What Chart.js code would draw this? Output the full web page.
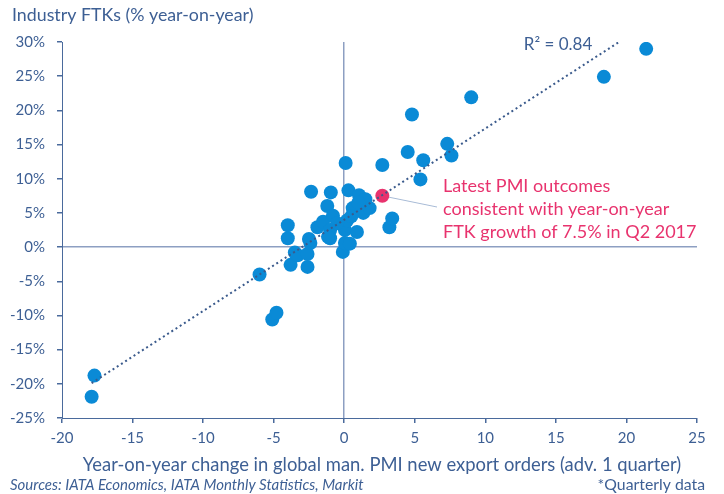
<!DOCTYPE html>
<html>
<head>
<meta charset="utf-8">
<script src="https://cdn.jsdelivr.net/npm/chart.js@4.4.1/dist/chart.umd.min.js"></script>
<style>
  html, body { margin: 0; padding: 0; background: #fff; }
</style>
</head>
<body>
<canvas id="ftkChart" width="724" height="494"></canvas>
<script>
// PMI new export orders change (x) vs industry FTK growth % (y), quarterly
const pmiX = [-17.9, -17.7, -6.0, -5.1, -4.8, -4.0, -4.0, -3.8, -3.5, -3.3,
              -2.6, -2.6, -2.5, -2.4, -2.35, -1.9, -1.5, -1.2, -1.0, -1.0,
              -0.95, -0.8, -0.1, 0.05, 0.05, 0.1, 0.2, 0.3, 0.4, 0.6,
              0.9, 1.05, 1.35, 1.5, 1.8, 2.7, 3.2, 3.4, 4.5, 4.8,
              5.4, 5.6, 7.3, 7.6, 9.0, 18.4, 21.4, -0.5, 0.5, 1.0, -1.15];
const ftkY = [-21.9, -18.8, -4.0, -10.6, -9.6, 3.2, 1.3, -2.6, -0.8, -1.2,
              -2.9, -1.0, 1.2, 0.6, 8.1, 2.9, 3.7, 6.0, 1.3, 2.5,
              8.0, 4.6, -0.7, 0.6, 2.5, 12.3, 3.9, 8.3, 0.5, 5.7,
              2.2, 7.6, 5.0, 7.0, 5.7, 12.0, 2.9, 4.2, 13.9, 19.4,
              9.9, 12.7, 15.1, 13.4, 21.9, 24.9, 29.0, 3.5, 4.5, 6.5, 1.5];

// latest quarter (Q2 2017)
const latestX = [2.7];
const latestY = [7.5];

// linear trend line end points
const trendX = [-17.9, 19.7];
const trendY = [-19.9, 30.3];

const xTicks = [-20, -15, -10, -5, 0, 5, 10, 15, 20, 25];
const yTicks = [-25, -20, -15, -10, -5, 0, 5, 10, 15, 20, 25, 30];

const blue = '#0a8ad6';
const pink = '#e8336e';
const textBlue = '#3d5f94';
const axisColor = '#4a6a9c';
const zeroColor = '#8d9fc2';

Chart.defaults.font.family = 'Lato, "Open Sans", sans-serif';

const toPoints = (xs, ys) => xs.map((v, i) => ({ x: v, y: ys[i] }));

const textPlugin = {
  id: 'textPlugin',
  beforeDatasetsDraw(chart) {
    const { ctx, scales: { x, y } } = chart;
    const px = x.getPixelForValue(latestX[0]);
    const py = y.getPixelForValue(latestY[0]);
    ctx.save();
    ctx.strokeStyle = '#a8bbd6';
    ctx.lineWidth = 1;
    ctx.beginPath();
    ctx.moveTo(px, py);
    ctx.lineTo(437, 207);
    ctx.stroke();
    ctx.restore();
  },
  afterDraw(chart) {
    const { ctx } = chart;
    ctx.save();
    ctx.textBaseline = 'middle';
    ctx.fillStyle = textBlue;
    ctx.textAlign = 'left';
    ctx.font = '17.8px Lato';
    ctx.fillText('Industry FTKs (% year-on-year)', 12, 15);

    ctx.textAlign = 'center';
    ctx.font = '18.4px Lato';
    ctx.fillText('Year-on-year change in global man. PMI new export orders (adv. 1 quarter)', 382, 465);

    ctx.font = '17px Lato';
    ctx.fillText('R\u00b2 = 0.84', 558, 45);

    ctx.textAlign = 'left';
    ctx.font = 'italic 15px Lato';
    ctx.fillText('Sources: IATA Economics, IATA Monthly Statistics, Markit', 10, 485);
    ctx.textAlign = 'right';
    ctx.font = '15.8px Lato';
    ctx.fillText('*Quarterly data', 705, 485);

    ctx.textAlign = 'left';
    ctx.fillStyle = pink;
    ctx.font = '18px Lato';
    ctx.fillText('Latest PMI outcomes', 443, 186);
    ctx.fillText('consistent with year-on-year', 443, 209);
    ctx.fillText('FTK growth of 7.5% in Q2 2017', 443, 232);
    ctx.restore();
  }
};

const zeroGrid = (c) => (c.tick && c.tick.value === 0 ? zeroColor : 'rgba(0,0,0,0)');

new Chart(document.getElementById('ftkChart'), {
  type: 'scatter',
  data: {
    datasets: [
      {
        type: 'line',
        data: toPoints(trendX, trendY),
        borderColor: '#3a5a8c',
        borderWidth: 2,
        borderDash: [2, 3],
        pointRadius: 0,
        fill: false
      },
      {
        data: toPoints(latestX, latestY),
        backgroundColor: pink,
        borderWidth: 0,
        pointRadius: 7,
        pointHoverRadius: 7
      },
      {
        data: toPoints(pmiX, ftkY),
        backgroundColor: blue,
        borderWidth: 0,
        pointRadius: 7,
        pointHoverRadius: 7
      }
    ]
  },
  options: {
    responsive: false,
    animation: false,
    devicePixelRatio: 1,
    layout: { padding: { left: 0, right: 27, top: 42, bottom: 0 } },
    plugins: { legend: { display: false }, tooltip: { enabled: false } },
    scales: {
      x: {
        type: 'linear',
        min: xTicks[0],
        max: xTicks[xTicks.length - 1],
        afterBuildTicks: (s) => { s.ticks = xTicks.map(v => ({ value: v })); },
        afterFit: (s) => { s.height = 76; },
        grid: { color: zeroGrid, lineWidth: 1.5, tickColor: axisColor, tickLength: 5 },
        border: { color: axisColor, width: 1 },
        ticks: { color: textBlue, font: { size: 15 }, padding: 6 }
      },
      y: {
        type: 'linear',
        min: yTicks[0],
        max: yTicks[yTicks.length - 1],
        afterBuildTicks: (s) => { s.ticks = yTicks.map(v => ({ value: v })); },
        afterFit: (s) => { s.width = 62; },
        grid: { color: zeroGrid, lineWidth: 1.5, tickColor: axisColor, tickLength: 5 },
        border: { color: axisColor, width: 1 },
        ticks: { color: textBlue, font: { size: 15 }, padding: 12, callback: (v) => v + '%' }
      }
    }
  },
  plugins: [textPlugin]
});
</script>
</body>
</html>
